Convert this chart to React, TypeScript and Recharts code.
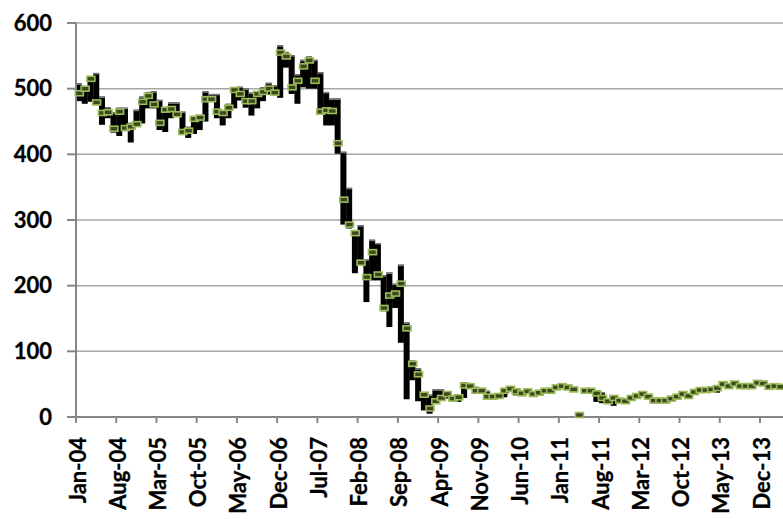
import React from 'react';
import { ComposedChart, Bar, Line, XAxis, YAxis, CartesianGrid } from 'recharts';

// monthly categories, Jan-04 .. Mar-14
const months = [
  'Jan-04', 'Feb-04', 'Mar-04', 'Apr-04', 'May-04', 'Jun-04', 'Jul-04', 'Aug-04', 'Sep-04', 'Oct-04', 'Nov-04', 'Dec-04',
  'Jan-05', 'Feb-05', 'Mar-05', 'Apr-05', 'May-05', 'Jun-05', 'Jul-05', 'Aug-05', 'Sep-05', 'Oct-05', 'Nov-05', 'Dec-05',
  'Jan-06', 'Feb-06', 'Mar-06', 'Apr-06', 'May-06', 'Jun-06', 'Jul-06', 'Aug-06', 'Sep-06', 'Oct-06', 'Nov-06', 'Dec-06',
  'Jan-07', 'Feb-07', 'Mar-07', 'Apr-07', 'May-07', 'Jun-07', 'Jul-07', 'Aug-07', 'Sep-07', 'Oct-07', 'Nov-07', 'Dec-07',
  'Jan-08', 'Feb-08', 'Mar-08', 'Apr-08', 'May-08', 'Jun-08', 'Jul-08', 'Aug-08', 'Sep-08', 'Oct-08', 'Nov-08', 'Dec-08',
  'Jan-09', 'Feb-09', 'Mar-09', 'Apr-09', 'May-09', 'Jun-09', 'Jul-09', 'Aug-09', 'Sep-09', 'Oct-09', 'Nov-09', 'Dec-09',
  'Jan-10', 'Feb-10', 'Mar-10', 'Apr-10', 'May-10', 'Jun-10', 'Jul-10', 'Aug-10', 'Sep-10', 'Oct-10', 'Nov-10', 'Dec-10',
  'Jan-11', 'Feb-11', 'Mar-11', 'Apr-11', 'May-11', 'Jun-11', 'Jul-11', 'Aug-11', 'Sep-11', 'Oct-11', 'Nov-11', 'Dec-11',
  'Jan-12', 'Feb-12', 'Mar-12', 'Apr-12', 'May-12', 'Jun-12', 'Jul-12', 'Aug-12', 'Sep-12', 'Oct-12', 'Nov-12', 'Dec-12',
  'Jan-13', 'Feb-13', 'Mar-13', 'Apr-13', 'May-13', 'Jun-13', 'Jul-13', 'Aug-13', 'Sep-13', 'Oct-13', 'Nov-13', 'Dec-13',
  'Jan-14', 'Feb-14', 'Mar-14',
];

const high = [
  508, 502, 518, 524, 488, 472, 464, 471, 471, 448, 468, 488,
  495, 496, 483, 470, 479, 479, 465, 442, 457, 460, 496, 492,
  492, 467, 477, 502, 503, 500, 494, 496, 502, 509, 505, 566,
  556, 551, 522, 544, 549, 544, 525, 495, 485, 485, 404, 349,
  284, 292, 240, 270, 265, 216, 220, 203, 232, 144, 86, 74,
  37, 34, 42, 42, 36, 33, 32, 53, 50, 46, 41, 40,
  33, 35, 42, 47, 44, 40, 41, 38, 39, 42, 42, 47,
  49, 47, 44, 4, 42, 42, 40, 38, 28, 32, 29, 27,
  31, 34, 37, 34, 28, 27, 27, 30, 34, 37, 35, 40,
  43, 43, 44, 46, 53, 50, 53, 49, 49, 49, 54, 53,
  50, 49, 48,
];

const low = [
  481, 477, 480, 477, 445, 455, 433, 428, 436, 418, 444, 447,
  470, 470, 437, 434, 455, 457, 433, 425, 431, 437, 450, 481,
  455, 444, 455, 470, 482, 471, 459, 470, 481, 491, 491, 486,
  532, 492, 477, 502, 500, 500, 462, 444, 444, 401, 293, 287,
  219, 232, 175, 208, 208, 161, 137, 166, 113, 27, 56, 24,
  10, 5, 20, 28, 28, 25, 23, 29, 44, 37, 38, 28,
  29, 28, 30, 38, 33, 34, 37, 33, 35, 38, 38, 43,
  45, 43, 40, 2, 38, 38, 23, 21, 20, 17, 22, 22,
  26, 29, 32, 28, 23, 23, 23, 26, 29, 32, 28, 35,
  38, 38, 39, 37, 47, 44, 48, 45, 45, 45, 49, 48,
  44, 45, 44,
];

const close = [
  493, 500, 515, 479, 463, 464, 439, 465, 440, 442, 446, 480,
  489, 476, 448, 468, 469, 461, 434, 436, 454, 456, 484, 484,
  465, 463, 471, 498, 492, 481, 481, 492, 495, 500, 494, 555,
  549, 502, 512, 534, 543, 512, 465, 467, 466, 417, 331, 293,
  280, 235, 213, 251, 217, 166, 185, 188, 203, 135, 81, 65,
  34, 13, 24, 29, 35, 28, 30, 48, 47, 40, 40, 31,
  31, 32, 40, 43, 39, 36, 39, 35, 37, 40, 40, 45,
  47, 45, 42, 3, 40, 40, 36, 29, 24, 29, 25, 24,
  29, 32, 35, 31, 25, 25, 25, 28, 31, 35, 32, 38,
  41, 41, 42, 44, 50, 47, 51, 47, 47, 47, 52, 51,
  46, 47, 46,
];

const yTicks = [0, 100, 200, 300, 400, 500, 600];

const data = months.map((m, i) => ({
  month: m,
  range: [low[i], high[i]],
  close: close[i],
}));

const W = 783;
const H = 519;
const LEFT = 76;
const BAND = (W - LEFT) / months.length;
const AXIS = '#868686';
const FONT = 'Lato, "Open Sans", sans-serif';

const HLBar = (props: any) => {
  const { x, y, width, height } = props;
  if (height == null || isNaN(height)) return null;
  return (
    <g>
      <rect x={x} y={y} width={width} height={height} fill="#000" />
      <rect x={x} y={y} width={width} height={Math.min(1.5, height)} fill="#7a7a7a" />
    </g>
  );
};

const CloseMark = (props: any) => {
  const { cx, cy, index } = props;
  if (cx == null || cy == null) return null;
  return (
    <rect
      key={index}
      x={cx - 3.5}
      y={cy - 2.5}
      width={8}
      height={5}
      fill="#3b4720"
      stroke="#9bbb59"
      strokeWidth={1.6}
    />
  );
};

const XTick = (props: any) => {
  const { x, y, payload } = props;
  const bx = x - BAND / 2;
  const ty = y + 20;
  return (
    <g>
      <line x1={bx} x2={bx} y1={y} y2={y + 6} stroke={AXIS} strokeWidth={2} />
      <text
        x={bx + 1}
        y={ty}
        transform={`rotate(-90 ${bx + 1} ${ty})`}
        textAnchor="end"
        dominantBaseline="central"
        fontFamily={FONT}
        fontWeight={700}
        fontSize={22}
        fill="#000"
        stroke="#000"
        strokeWidth={0.3}
      >
        {payload.value}
      </text>
    </g>
  );
};

export default function App() {
  return (
    <div style={{ position: 'absolute', left: 0, top: 0, width: W, height: H, background: '#fff' }}>
      <ComposedChart
        width={W}
        height={H}
        data={data}
        margin={{ top: 23, right: 0, left: 0, bottom: 0 }}
        barCategoryGap={0}
      >
        <CartesianGrid vertical={false} stroke="#a6a6a6" strokeWidth={1.5} />
        <XAxis
          dataKey="month"
          interval={6}
          height={102}
          tickSize={0}
          tickMargin={0}
          tickLine={false}
          axisLine={{ stroke: AXIS, strokeWidth: 2 }}
          tick={<XTick />}
        />
        <YAxis
          domain={[0, 600]}
          ticks={yTicks}
          width={LEFT}
          tickSize={9}
          tickMargin={15}
          tickLine={{ stroke: AXIS, strokeWidth: 2 }}
          axisLine={{ stroke: AXIS, strokeWidth: 2 }}
          tick={{ fill: '#000', stroke: '#000', strokeWidth: 0.3, fontSize: 22, fontWeight: 700, fontFamily: FONT }}
        />
        <Bar dataKey="range" shape={<HLBar />} isAnimationActive={false} />
        <Line
          dataKey="close"
          stroke="none"
          dot={<CloseMark />}
          activeDot={false}
          isAnimationActive={false}
        />
      </ComposedChart>
    </div>
  );
}
